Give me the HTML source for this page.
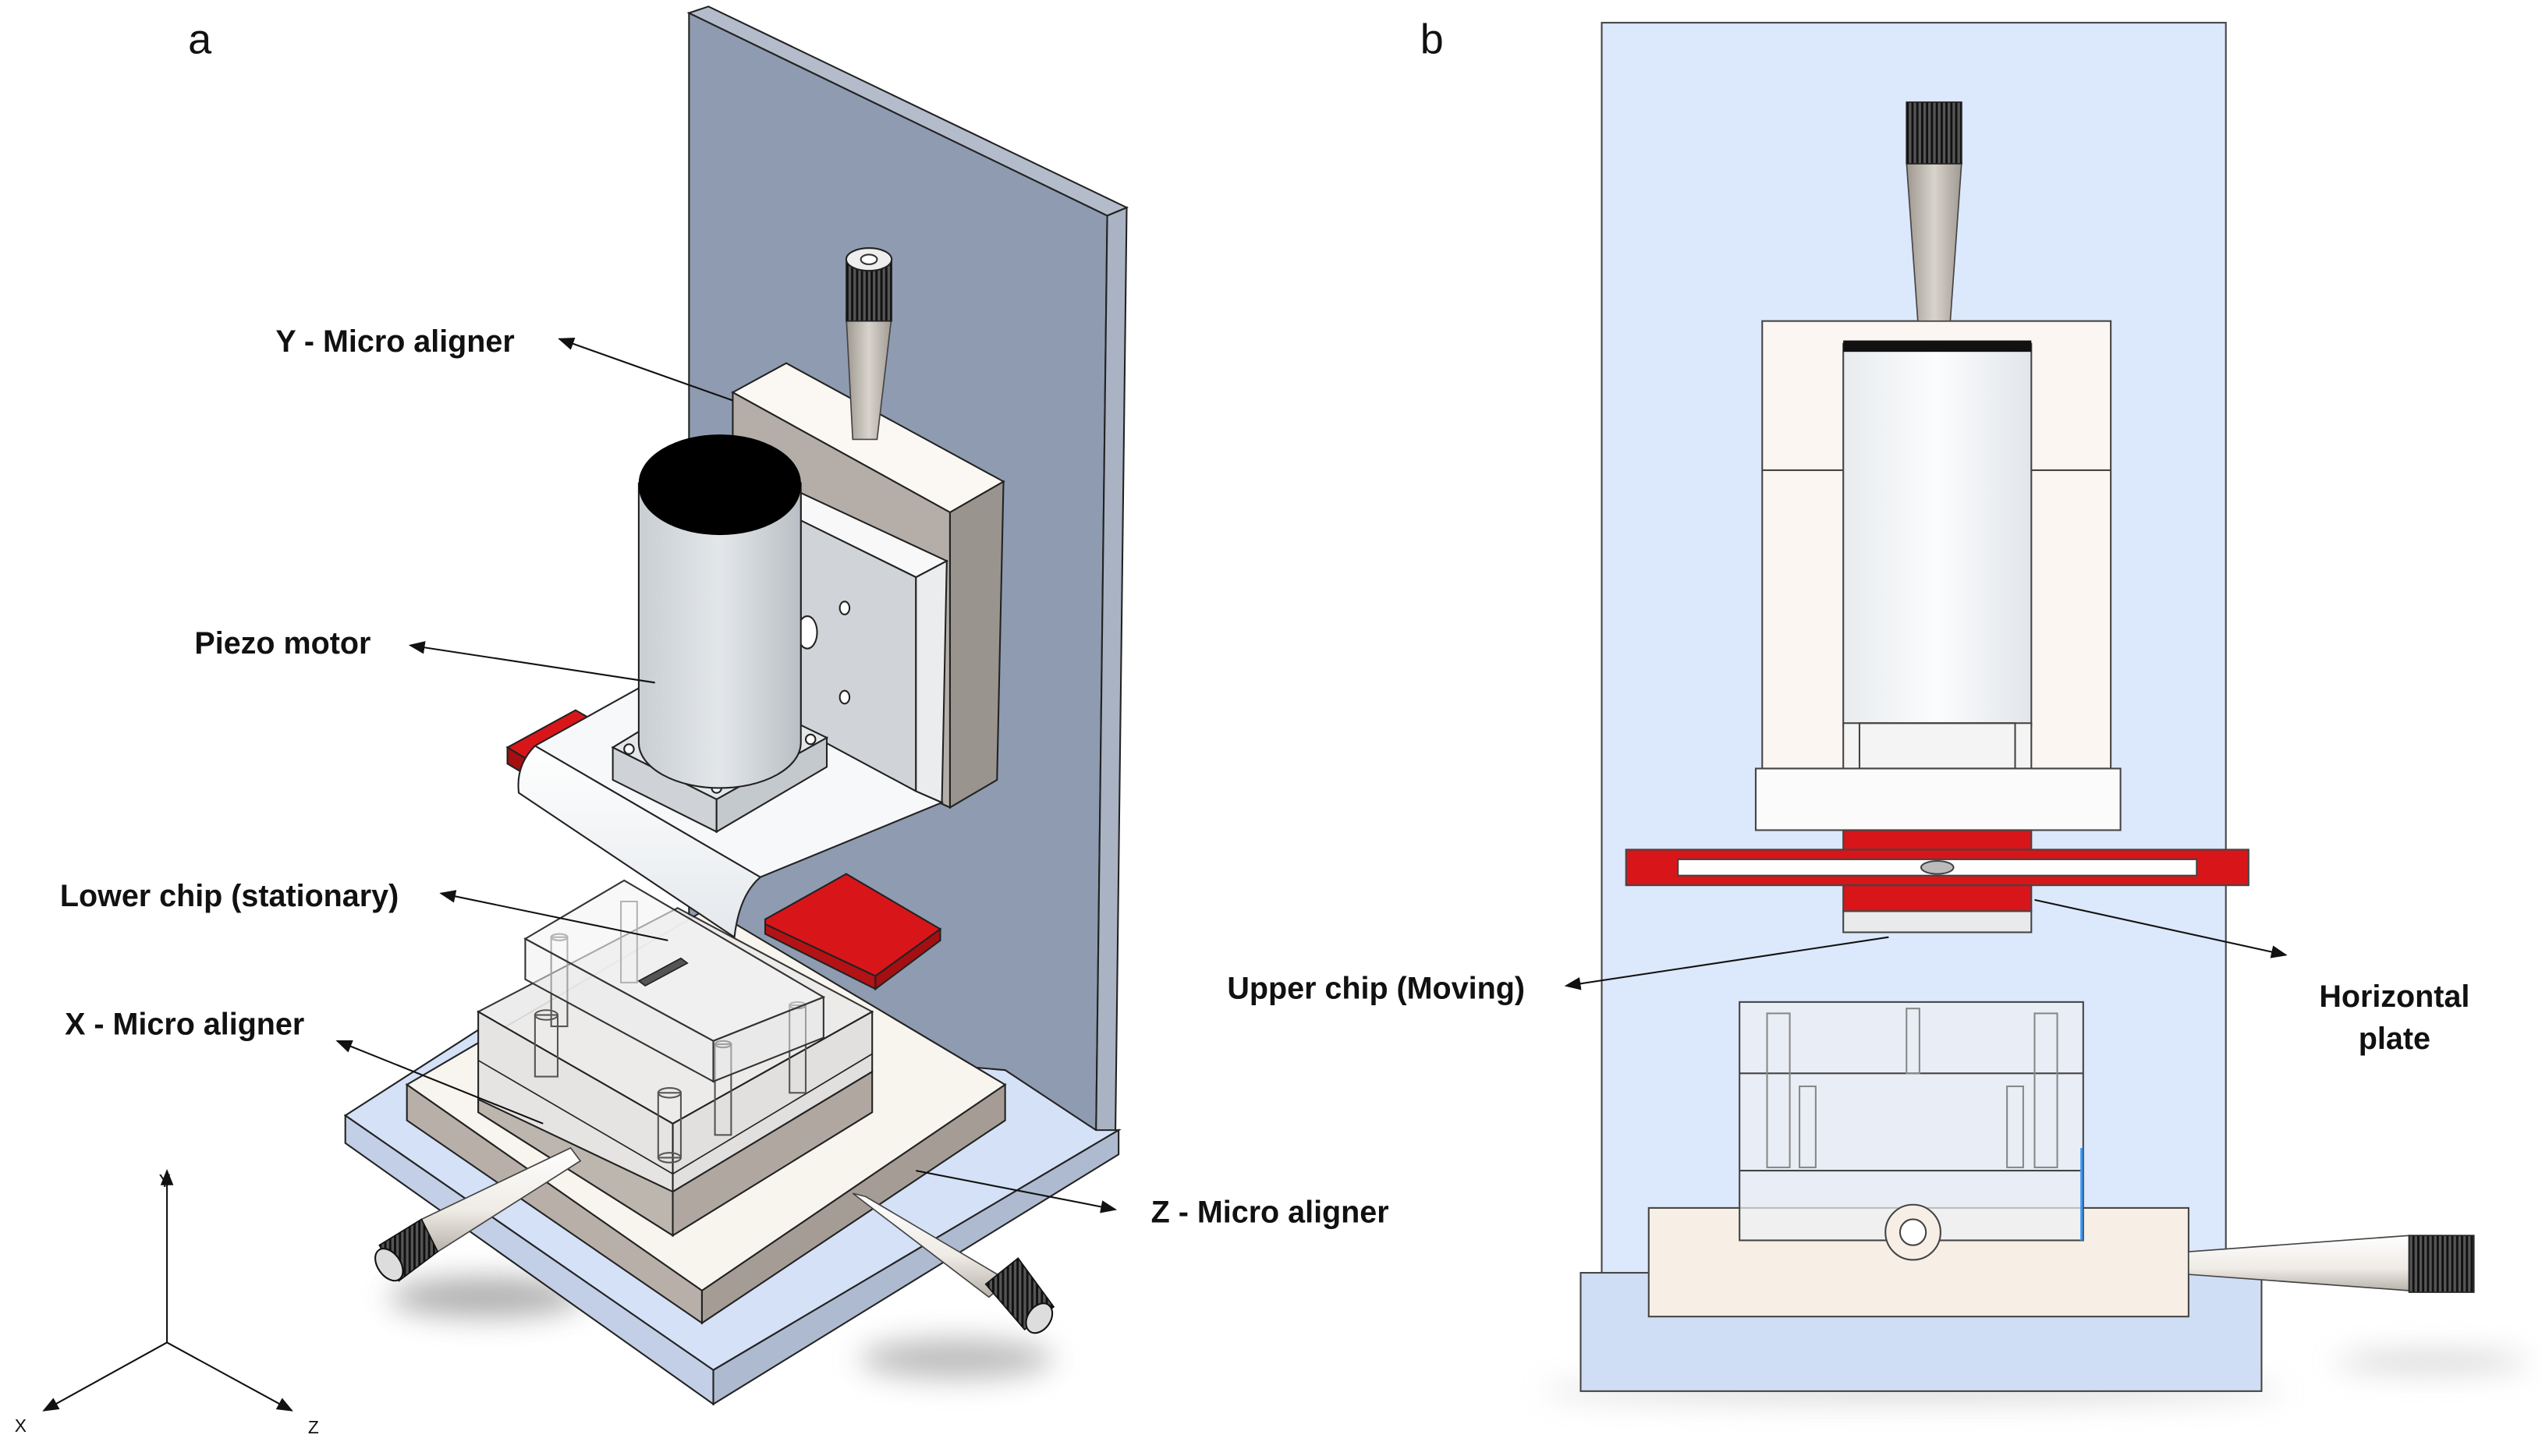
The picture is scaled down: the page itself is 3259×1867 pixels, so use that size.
<!DOCTYPE html>
<html><head><meta charset="utf-8"><style>html,body{margin:0;padding:0;background:#fff}svg{display:block}text{font-family:"Liberation Sans",sans-serif;font-weight:bold;fill:#111}</style></head>
<body>
<svg width="3259" height="1867" viewBox="0 0 1568 898" preserveAspectRatio="none" xmlns="http://www.w3.org/2000/svg">
<defs>
<linearGradient id="cyl" x1="0" x2="1"><stop offset="0" stop-color="#c9ced2"/><stop offset=".5" stop-color="#e3e7ea"/><stop offset="1" stop-color="#b9bfc4"/></linearGradient>
<linearGradient id="cylb" x1="0" x2="1"><stop offset="0" stop-color="#e8ecef"/><stop offset=".5" stop-color="#fbfcfd"/><stop offset="1" stop-color="#e2e6ea"/></linearGradient>
<linearGradient id="plate" x1="0" x2="0" y1="0" y2="1"><stop offset="0" stop-color="#fff"/><stop offset="1" stop-color="#e4e8ec"/></linearGradient>
<linearGradient id="knob" x1="0" x2="1"><stop offset="0" stop-color="#9e9890"/><stop offset=".5" stop-color="#d8d3cc"/><stop offset="1" stop-color="#a09a93"/></linearGradient>
<linearGradient id="kn2" x1="0" x2="0" y1="0" y2="1"><stop offset="0" stop-color="#fff"/><stop offset=".6" stop-color="#efebe5"/><stop offset="1" stop-color="#b8b2aa"/></linearGradient>
<pattern id="knurl" width="3" height="3" patternUnits="userSpaceOnUse"><rect width="3" height="3" fill="#555"/><rect width="1.4" height="3" fill="#111"/></pattern>
<filter id="blur" x="-50%" y="-200%" width="200%" height="500%"><feGaussianBlur stdDeviation="9"/></filter>
<marker id="ar" markerWidth="10" markerHeight="8" refX="9" refY="4" orient="auto" markerUnits="userSpaceOnUse"><path d="M0,0 L10,4 L0,8 z" fill="#111"/></marker>
</defs>

<!-- ===== Panel a ===== -->
<text x="116" y="33" font-size="26" style="font-weight:normal">a</text>
<ellipse cx="300" cy="800" rx="60" ry="12" fill="#777" opacity=".6" filter="url(#blur)"/>
<ellipse cx="590" cy="838" rx="60" ry="12" fill="#777" opacity=".5" filter="url(#blur)"/>
<!-- back plate -->
<polygon points="425,8 683,133 676,705 425,700" fill="#8e9bb0" stroke="#222" stroke-width="1"/>
<polygon points="683,133 695,128 688,700 676,705" fill="#a9b3c3" stroke="#222" stroke-width="1"/>
<polygon points="425,8 437,4 695,128 683,133" fill="#b4bccb" stroke="#222" stroke-width="1"/>
<!-- base plate -->
<polygon points="213,688 300,632 620,660 676,697 690,697 440,845" fill="#d4e1f6" stroke="#222" stroke-width="1"/>
<polygon points="213,688 440,845 440,866 213,705" fill="#c2cfe6" stroke="#222" stroke-width="1"/>
<polygon points="440,845 690,697 690,712 440,866" fill="#aebad0" stroke="#222" stroke-width="1"/>
<!-- Z slab -->
<polygon points="251,669 437,560 620,669 433,796" fill="#f8f4ee" stroke="#222" stroke-width="1"/>
<polygon points="251,669 433,796 433,816 251,691" fill="#b8b0a8" stroke="#222" stroke-width="1"/>
<polygon points="433,796 620,669 620,691 433,816" fill="#a59d95" stroke="#222" stroke-width="1"/>
<!-- X aligner -->
<polygon points="295,624 415,693 538,624 418,560" fill="#ecebea" stroke="#222" stroke-width="1" opacity=".9"/>
<polygon points="295,624 415,693 415,762 295,686" fill="#e6e4e2" stroke="#222" stroke-width="1"/>
<polygon points="295,678 415,735 415,762 295,686" fill="#bdb6ae" stroke="#222" stroke-width="1"/>
<polygon points="415,693 538,624 538,661 415,735" fill="#e2e0de" stroke="#222" stroke-width="1"/>
<polygon points="415,735 538,661 538,686 415,762" fill="#b0a8a0" stroke="#222" stroke-width="1"/>
<line x1="295" y1="654" x2="415" y2="724" stroke="#222" stroke-width=".8"/>
<line x1="415" y1="724" x2="538" y2="650" stroke="#222" stroke-width=".8"/>
<g fill="none" stroke="#555" stroke-width="1">
<rect x="406" y="674" width="14" height="40"/><ellipse cx="413" cy="674" rx="7" ry="3"/><ellipse cx="413" cy="714" rx="7" ry="3"/>
<rect x="441" y="644" width="10" height="56"/><ellipse cx="446" cy="644" rx="5" ry="2"/>
<rect x="487" y="620" width="10" height="54"/><ellipse cx="492" cy="620" rx="5" ry="2"/>
<rect x="330" y="626" width="14" height="38"/><ellipse cx="337" cy="626" rx="7" ry="3"/>
<rect x="340" y="578" width="10" height="55"/><ellipse cx="345" cy="578" rx="5" ry="2"/>
<rect x="383" y="556" width="10" height="50"/>
</g>
<!-- upper chip box -->
<polygon points="324,579 440,642 508,615 385,543" fill="#f4f4f4" fill-opacity=".6" stroke="#333" stroke-width="1"/>
<polygon points="324,579 440,642 440,667 324,604" fill="#eee" fill-opacity=".5" stroke="#333" stroke-width="1"/>
<polygon points="440,642 508,615 508,640 440,667" fill="#e8e8e8" fill-opacity=".5" stroke="#333" stroke-width="1"/>
<polygon points="394,605 420,591 424,594 398,608" fill="#555" stroke="#222" stroke-width=".8"/>
<!-- knobs -->
<polygon points="352,708 358,716 270,772 260,752" fill="url(#kn2)" stroke="#444" stroke-width=".8"/>
<polygon points="260,752 270,772 246,790 234,768" fill="url(#knurl)" stroke="#111" stroke-width=".8"/>
<ellipse cx="240" cy="780" rx="7" ry="11" transform="rotate(-35 240 780)" fill="#ddd" stroke="#111"/>
<polygon points="526,736 534,738 622,790 610,800" fill="url(#kn2)" stroke="#444" stroke-width=".8"/>
<polygon points="608,792 628,776 650,806 632,820" fill="url(#knurl)" stroke="#111" stroke-width=".8"/>
<ellipse cx="641" cy="813" rx="7" ry="10" transform="rotate(35 641 813)" fill="#ddd" stroke="#111"/>
<!-- red right tab -->
<polygon points="472,567 522,539 580,573 540,602 472,570" fill="#d8161a" stroke="#222" stroke-width="1"/>
<polygon points="540,602 580,573 580,580 540,610" fill="#a50f12" stroke="#222" stroke-width="1"/>
<polygon points="472,570 540,602 540,610 472,576" fill="#b51215" stroke="#222" stroke-width="1"/>
<!-- Y aligner block -->
<polygon points="452,242 485,224 619,297 586,316" fill="#fbf8f3" stroke="#222" stroke-width="1"/>
<polygon points="452,242 586,316 586,498 452,439" fill="#b5aea8" stroke="#222" stroke-width="1"/>
<polygon points="586,316 619,297 615,481 586,498" fill="#9a948e" stroke="#222" stroke-width="1"/>
<!-- Y knob -->
<polygon points="526,271 541,271 550,195 522,195" fill="url(#knob)" stroke="#444" stroke-width=".8"/>
<rect x="522" y="160" width="28" height="38" fill="url(#knurl)" stroke="#222" stroke-width=".8"/>
<ellipse cx="536" cy="160" rx="14" ry="7" fill="#eee" stroke="#222"/><ellipse cx="536" cy="160" rx="5" ry="3" fill="#fff" stroke="#333"/>
<!-- L bracket vertical -->
<polygon points="494,304 584,346 565,356 494,321" fill="#f8f8f8" stroke="#222" stroke-width="1"/>
<polygon points="494,321 565,356 565,488 494,451" fill="#d0d4d8" stroke="#222" stroke-width="1"/>
<polygon points="565,356 584,346 581,495 565,488" fill="#eaecee" stroke="#222" stroke-width="1"/>
<ellipse cx="521" cy="375" rx="3" ry="4" fill="#fff" stroke="#222"/>
<ellipse cx="521" cy="430" rx="3" ry="4" fill="#fff" stroke="#222"/>
<ellipse cx="498" cy="390" rx="6" ry="10" fill="#fff" stroke="#222"/>
<!-- red left tab -->
<polygon points="313,461 355,438 369,446 328,470" fill="#d8161a" stroke="#222" stroke-width="1"/>
<polygon points="313,461 328,470 328,480 313,471" fill="#a50f12" stroke="#222" stroke-width="1"/>
<!-- horizontal plate -->
<polygon points="330,460 420,410 565,488 581,495 469,541" fill="#f7f8f9" stroke="#222" stroke-width="1"/>
<path d="M330,460 Q318,472 320,489 L453,578 Q456,552 469,541 Z" fill="url(#plate)" stroke="#222" stroke-width="1"/>
<!-- motor base -->
<polygon points="378,461 442,422 510,455 442,493" fill="#e4e7ea" stroke="#222" stroke-width="1"/>
<polygon points="378,461 442,493 442,513 378,481" fill="#cfd3d7" stroke="#222" stroke-width="1"/>
<polygon points="442,493 510,455 510,473 442,513" fill="#c4c9ce" stroke="#222" stroke-width="1"/>
<circle cx="388" cy="462" r="3" fill="#fff" stroke="#222"/><circle cx="500" cy="456" r="3" fill="#fff" stroke="#222"/><circle cx="442" cy="486" r="3" fill="#fff" stroke="#222"/>
<!-- cylinder -->
<path d="M394,298 L394,458 A50,28 0 0 0 494,458 L494,298 Z" fill="url(#cyl)" stroke="#222" stroke-width="1"/>
<path d="M394,298 A50,30 0 0 1 494,298 L494,300 A50,30 0 0 1 394,300 Z" fill="#000"/>
<ellipse cx="444" cy="298" rx="50" ry="30" fill="#000"/>

<!-- labels a -->
<text x="170" y="217" font-size="19">Y - Micro aligner</text>
<line x1="452" y1="247" x2="345" y2="209" stroke="#111" stroke-width="1" marker-end="url(#ar)"/>
<text x="120" y="403" font-size="19">Piezo motor</text>
<line x1="404" y1="421" x2="253" y2="398" stroke="#111" stroke-width="1" marker-end="url(#ar)"/>
<text x="37" y="559" font-size="19">Lower chip (stationary)</text>
<line x1="412" y1="580" x2="272" y2="551" stroke="#111" stroke-width="1" marker-end="url(#ar)"/>
<text x="40" y="638" font-size="19">X - Micro aligner</text>
<line x1="335" y1="693" x2="208" y2="642" stroke="#111" stroke-width="1" marker-end="url(#ar)"/>
<text x="710" y="754" font-size="19">Z - Micro aligner</text>
<line x1="565" y1="722" x2="688" y2="746" stroke="#111" stroke-width="1" marker-end="url(#ar)"/>
<line x1="103" y1="828" x2="103" y2="722" stroke="#111" stroke-width="1" marker-end="url(#ar)"/>
<line x1="103" y1="828" x2="27" y2="870" stroke="#111" stroke-width="1" marker-end="url(#ar)"/>
<line x1="103" y1="828" x2="180" y2="870" stroke="#111" stroke-width="1" marker-end="url(#ar)"/>
<text x="98" y="732" font-size="11" style="font-weight:normal">Y</text>
<text x="9" y="883" font-size="11" style="font-weight:normal">X</text>
<text x="190" y="884" font-size="11" style="font-weight:normal">Z</text>

<!-- ===== Panel b ===== -->
<text x="876" y="33" font-size="26" style="font-weight:normal">b</text>
<ellipse cx="1180" cy="858" rx="230" ry="5" fill="#999" opacity=".5" filter="url(#blur)"/>
<ellipse cx="1500" cy="840" rx="60" ry="5" fill="#999" opacity=".5" filter="url(#blur)"/>
<rect x="988" y="14" width="385" height="816" fill="#dce8fb" stroke="#444" stroke-width="1"/>
<rect x="975" y="785" width="420" height="73" fill="#d0def5" stroke="#444" stroke-width="1"/>
<rect x="1017" y="745" width="333" height="67" fill="#f7efe6" stroke="#444" stroke-width="1"/>
<polygon points="1350,772 1486,762 1486,796 1350,786" fill="url(#kn2)" stroke="#444" stroke-width=".8"/>
<rect x="1486" y="762" width="40" height="35" fill="url(#knurl)" stroke="#222" stroke-width=".8"/>
<rect x="1073" y="618" width="212" height="147" fill="#eef1f4" fill-opacity=".7" stroke="#444" stroke-width="1"/>
<line x1="1073" y1="662" x2="1285" y2="662" stroke="#444"/>
<line x1="1073" y1="722" x2="1285" y2="722" stroke="#444"/>
<g stroke="#888" fill="none">
<rect x="1090" y="625" width="14" height="95"/><rect x="1255" y="625" width="14" height="95"/>
<rect x="1110" y="670" width="10" height="50"/><rect x="1238" y="670" width="10" height="50"/>
<rect x="1176" y="622" width="8" height="40"/>
</g>
<line x1="1284" y1="708" x2="1284" y2="765" stroke="#3399ff" stroke-width="1.5"/>
<circle cx="1180" cy="760" r="17" fill="#f7efe6" stroke="#444"/><circle cx="1180" cy="760" r="8" fill="#fff" stroke="#444"/>
<rect x="1087" y="198" width="215" height="276" fill="#fbf6f1" stroke="#444"/>
<line x1="1087" y1="290" x2="1302" y2="290" stroke="#444"/>
<rect x="1137" y="212" width="116" height="236" fill="url(#cylb)" stroke="#444"/>
<rect x="1137" y="210" width="116" height="7" fill="#111"/>
<rect x="1137" y="446" width="116" height="28" fill="#f4f4f4" stroke="#444"/>
<rect x="1147" y="446" width="96" height="28" fill="none" stroke="#444"/>
<rect x="1083" y="474" width="225" height="38" fill="#fbfbfb" stroke="#444"/>
<rect x="1137" y="512" width="116" height="20" fill="#d8161a" stroke="#444"/>
<rect x="1003" y="524" width="384" height="22" fill="#d8161a" stroke="#444"/>
<rect x="1035" y="530" width="320" height="10" fill="#fff" stroke="#444"/>
<ellipse cx="1195" cy="535" rx="10" ry="4" fill="#bbb" stroke="#444"/>
<rect x="1137" y="546" width="116" height="16" fill="#d8161a" stroke="#444"/>
<rect x="1137" y="562" width="116" height="13" fill="#e8eaec" stroke="#444"/>
<polygon points="1183,198 1203,198 1210,100 1176,100" fill="url(#knob)" stroke="#444" stroke-width=".8"/>
<rect x="1176" y="63" width="34" height="38" fill="url(#knurl)" stroke="#222" stroke-width=".8"/>
<text x="757" y="616" font-size="19">Upper chip (Moving)</text>
<line x1="1165" y1="578" x2="966" y2="608" stroke="#111" stroke-width="1" marker-end="url(#ar)"/>
<text x="1477" y="621" font-size="19" text-anchor="middle">Horizontal</text>
<text x="1477" y="647" font-size="19" text-anchor="middle">plate</text>
<line x1="1255" y1="555" x2="1410" y2="589" stroke="#111" stroke-width="1" marker-end="url(#ar)"/>
</svg>
</body></html>
